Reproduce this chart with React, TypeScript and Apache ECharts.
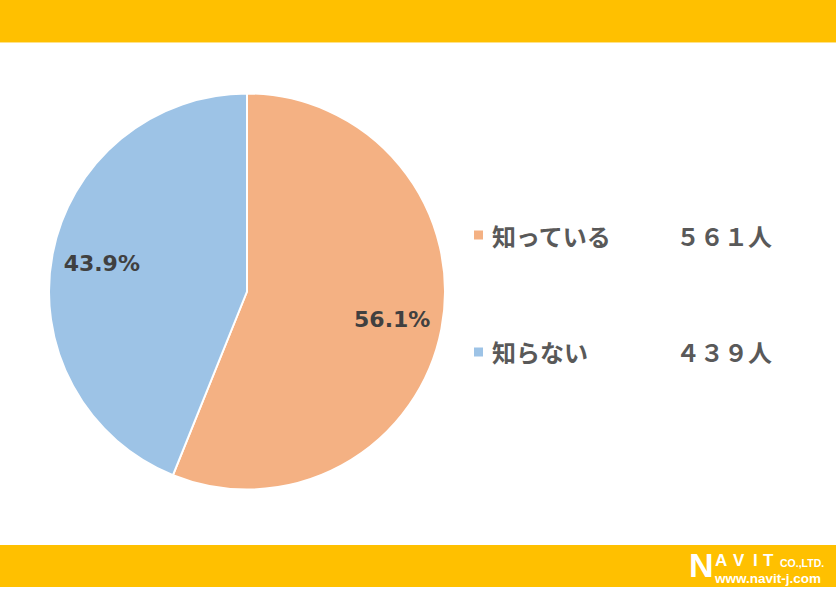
import React, { useEffect, useRef } from "react";
import * as echarts from "echarts";

const categories = ["知っている", "知らない"];
const counts = [561, 439];
const countLabels = ["５６１人", "４３９人"];
const colors = ["#F4B183", "#9DC3E6"];

export default function App() {
  const ref = useRef<HTMLDivElement>(null);
  useEffect(() => {
    if (!ref.current) return;
    const chart = echarts.init(ref.current, null, { renderer: "svg" });
    const cx = 247;
    const cy = 291.5;
    const logoFont = "'Liberation Sans'";
    const letter = (t: string, x: number, y: number, size: number, lh: number) => ({
      type: "text",
      x,
      y,
      style: {
        text: t,
        fill: "#ffffff",
        fontFamily: logoFont,
        fontWeight: "bold",
        fontSize: size,
        lineHeight: lh,
        verticalAlign: "middle",
        align: "left",
      },
    });
    chart.setOption({
      animation: false,
      backgroundColor: "#ffffff",
      graphic: [
        { type: "rect", shape: { x: 0, y: 0, width: 836, height: 42 }, style: { fill: "#FFC000" }, z: -1 },
        { type: "rect", shape: { x: 0, y: 42, width: 836, height: 1 }, style: { fill: "#FFE28A" }, z: -1 },
        { type: "rect", shape: { x: 0, y: 545, width: 836, height: 42 }, style: { fill: "#FFC000" }, z: -1 },
        letter("N", 689, 565, 34, 24),
        letter("A", 715, 560, 17, 12),
        letter("V", 733, 560, 17, 12),
        letter("I", 753, 560, 17, 12),
        letter("T", 763, 560, 17, 12),
        letter("CO.,LTD.", 780, 563, 10.5, 8),
        letter("www.navit-j.com", 715, 578.5, 13.5, 10),
      ],
      legend: {
        orient: "vertical",
        left: 472,
        top: 223,
        padding: 0,
        itemWidth: 11,
        itemHeight: 11,
        itemGap: 93,
        icon: "rect",
        selectedMode: false,
        formatter: (name: string) => {
          const i = categories.indexOf(name);
          return `{n|${name}}{v|${countLabels[i]}}`;
        },
        textStyle: {
          rich: {
            n: {
              width: 184,
              padding: [0, 0, 0, 3],
              fontSize: 24,
              lineHeight: 24,
              fontWeight: "bold",
              color: "#595959",
              fontFamily: "'Noto Sans CJK JP'",
            },
            v: {
              fontSize: 24,
              lineHeight: 24,
              fontWeight: "bold",
              color: "#595959",
              fontFamily: "'Noto Sans CJK JP'",
              letterSpacing: 1,
            },
          },
        },
      },
      series: [
        {
          type: "pie",
          center: [cx, cy],
          radius: 198,
          startAngle: 90,
          clockwise: true,
          percentPrecision: 1,
          itemStyle: { borderColor: "#ffffff", borderWidth: 2 },
          emphasis: { disabled: true },
          label: {
            position: "inside",
            formatter: "{d}%",
            fontSize: 22,
            fontWeight: "bold",
            color: "#404040",
            fontFamily: "'DejaVu Sans'",
          },
          labelLayout: (p: any) => {
            const r = p.labelRect;
            const lx = r.x + r.width / 2;
            const ly = r.y + r.height / 2;
            return { dx: (lx - cx) * 0.45, dy: (ly - cy) * 0.45 };
          },
          data: categories.map((c, i) => ({
            name: c,
            value: counts[i],
            itemStyle: { color: colors[i] },
          })),
        },
      ],
    });
    return () => chart.dispose();
  }, []);
  return (
    <div
      ref={ref}
      style={{ position: "fixed", left: 0, top: 0, width: 836, height: 589 }}
    />
  );
}
